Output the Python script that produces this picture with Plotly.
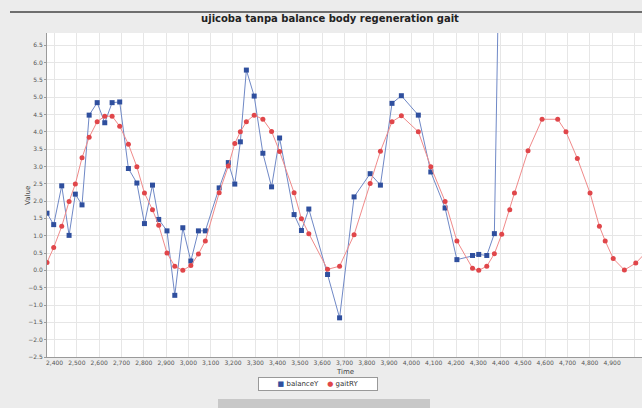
import plotly.graph_objects as go

# ==============================
# DATA
# ==============================

# shared time stamps (ms) for both series
time_ms = [2366, 2396, 2432, 2465, 2493, 2523, 2555, 2591, 2625, 2658,
           2692, 2731, 2769, 2803, 2839, 2867, 2904, 2939, 2975, 3011,
           3045, 3076, 3138, 3179, 3208, 3233, 3260, 3295, 3334, 3373,
           3409, 3474, 3507, 3540, 3624, 3678, 3743, 3815, 3861, 3913,
           3955, 4031, 4087, 4151, 4204, 4274, 4302, 4338, 4372, 4405,
           4441, 4462, 4523, 4586, 4656, 4693, 4744, 4801, 4843, 4869,
           4905, 4955, 5006, 5061]

# balanceY stops at the spike
balance_y = [1.65, 1.32, 2.44, 1.01, 2.20, 1.89, 4.48, 4.84, 4.26, 4.84,
             4.86, 2.94, 2.52, 1.35, 2.46, 1.47, 1.14, -0.72, 1.23, 0.27,
             1.14, 1.14, 2.38, 3.11, 2.49, 3.71, 5.78, 5.03, 3.38, 2.41,
             3.82, 1.61, 1.15, 1.77, -0.12, -1.37, 2.12, 2.79, 2.46, 4.82,
             5.04, 4.48, 2.84, 1.80, 0.31, 0.43, 0.46, 0.43, 1.06, 13.7]

gait_y = [0.23, 0.66, 1.27, 1.99, 2.49, 3.25, 3.84, 4.29, 4.45, 4.45,
          4.16, 3.64, 2.99, 2.23, 1.75, 1.30, 0.50, 0.12, 0.00, 0.14,
          0.47, 0.85, 2.24, 3.01, 3.66, 4.00, 4.29, 4.48, 4.36, 4.01,
          3.43, 2.24, 1.49, 1.06, 0.03, 0.12, 1.03, 2.51, 3.44, 4.29,
          4.46, 4.00, 2.99, 1.99, 0.85, 0.06, 0.00, 0.12, 0.48, 1.04,
          1.75, 2.23, 3.45, 4.36, 4.36, 4.00, 3.23, 2.23, 1.27, 0.85,
          0.34, 0.01, 0.21, 0.58]

TITLE = 'ujicoba tanpa balance body regeneration gait'
SERIES = ['balanceY', 'gaitRY']
COLORS = ['#2f4f9e', '#e0464a']
LINE_COLORS = ['#6f88c6', '#f08a8a']

W, H = 642, 408
L, R, T, B = 47, 0, 33, 51
PW, PH = W - L - R, H - T - B


def px_x(px):
    # figure pixel -> paper x
    return (px - L) / PW


def px_y(py):
    # figure pixel -> paper y
    return (H - B - py) / PH

# ==============================
# DRAW
# ==============================

balance_trace = go.Scatter(x=time_ms[:len(balance_y)], y=balance_y,
                           mode='lines+markers', name=SERIES[0],
                           line=dict(color=LINE_COLORS[0], width=1),
                           marker=dict(symbol='square', size=5, color=COLORS[0]))

gait_trace = go.Scatter(x=time_ms, y=gait_y,
                        mode='lines+markers', name=SERIES[1],
                        line=dict(color=LINE_COLORS[1], width=1),
                        marker=dict(symbol='circle', size=5, color=COLORS[1]))

fig = go.Figure(data=[balance_trace, gait_trace])

tick_font = dict(family='DejaVu Sans', size=6, color='#555555')

fig.update_layout(
    width=W, height=H,
    margin=dict(l=L, r=R, t=T, b=B),
    paper_bgcolor='#ececec',
    plot_bgcolor='white',
    showlegend=False,
    title=dict(text='<b>' + TITLE + '</b>', xref='container', yref='container',
               x=330 / W, y=1 - 18 / H, xanchor='center', yanchor='middle',
               font=dict(family='DejaVu Sans', size=10, color='#222222')),
    xaxis=dict(range=[2366, 5034], tick0=2400, dtick=100, tickformat=',d',
               showgrid=True, gridcolor='#e6e6e6', gridwidth=1,
               showline=True, linecolor='#9a9a9a', linewidth=1,
               ticks='', tickfont=tick_font, zeroline=False),
    yaxis=dict(range=[-2.5, 6.85], tick0=0, dtick=0.5, tickformat='.1f',
               showgrid=True, gridcolor='#e6e6e6', gridwidth=1,
               showline=True, linecolor='#9a9a9a', linewidth=1,
               ticks='outside', ticklen=2, tickcolor='#9a9a9a',
               tickfont=tick_font, zeroline=False),
)

# axis titles
fig.add_annotation(text='Time', xref='paper', yref='paper', x=px_x(345), y=px_y(378),
                   showarrow=False, font=dict(family='DejaVu Sans', size=7, color='#444444'))
fig.add_annotation(text='Value', xref='paper', yref='paper', textangle=-90,
                   x=px_x(22), y=px_y(195),
                   showarrow=False, font=dict(family='DejaVu Sans', size=7, color='#444444'))

# compact legend box like the JFreeChart one
legend_text = (f'<span style="color:{COLORS[0]}">■</span> {SERIES[0]}    '
               f'<span style="color:{COLORS[1]}">●</span> {SERIES[1]}')
fig.add_annotation(text=legend_text, xref='paper', yref='paper', x=px_x(318), y=px_y(391),
                   width=114, align='center',
                   showarrow=False, bgcolor='white', bordercolor='#999999', borderwidth=1,
                   borderpad=2, font=dict(family='DejaVu Sans', size=7, color='#333333'))

# window frame: dark line on top, scrollbar thumb at the bottom
fig.add_shape(type='line', xref='paper', yref='paper',
              x0=px_x(10), x1=1, y0=px_y(12), y1=px_y(12),
              line=dict(color='#444444', width=1.5))
fig.add_shape(type='rect', xref='paper', yref='paper',
              x0=px_x(218), x1=px_x(430), y0=px_y(408), y1=px_y(399),
              fillcolor='#c8c8c8', line=dict(width=0))

# page body has an 8px default margin; drop it so the chart sits at 0,0
fig.write_html("out.html", config={'displayModeBar': False},
               post_script="document.body.style.margin='0px';")
